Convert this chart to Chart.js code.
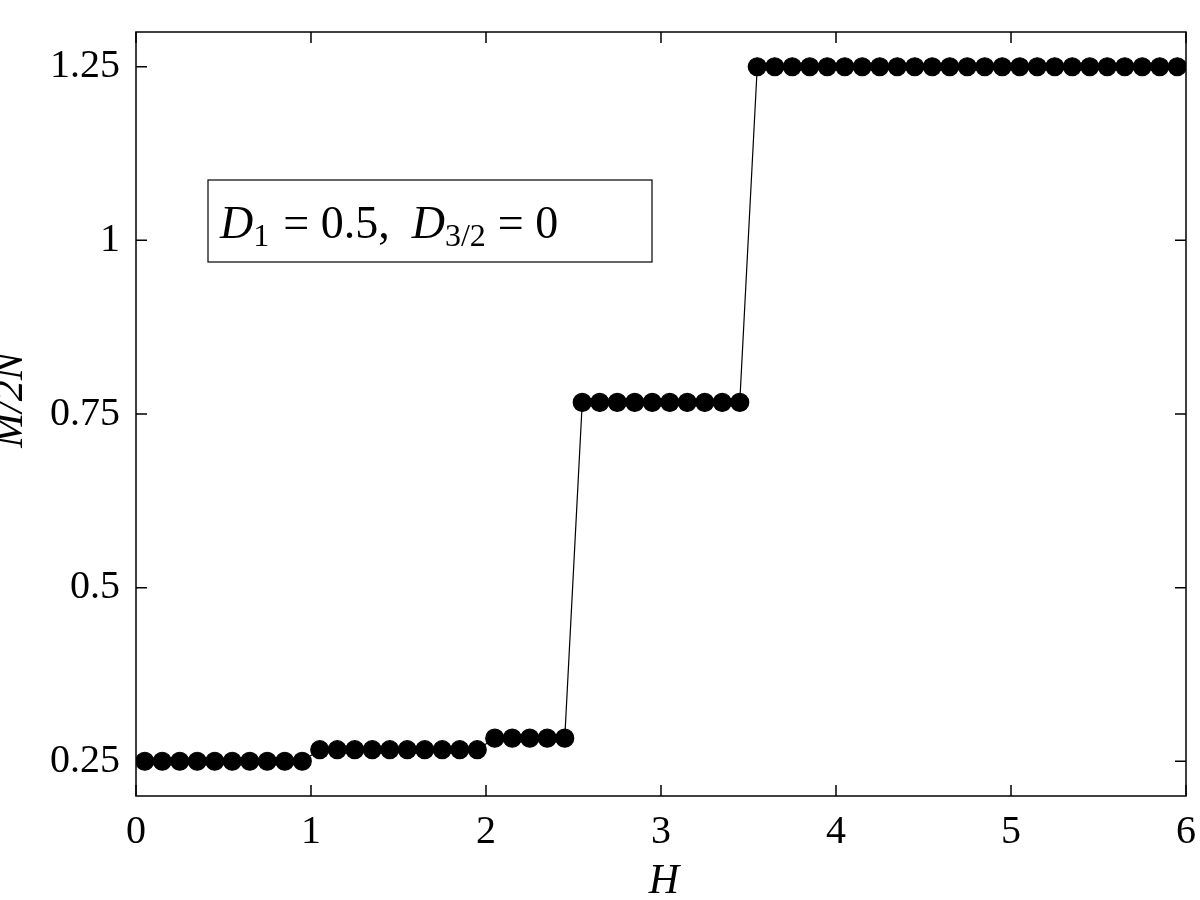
<!DOCTYPE html>
<html><head><meta charset="utf-8">
<script src="https://cdn.jsdelivr.net/npm/chart.js@4"></script>
<style>html,body{margin:0;padding:0;background:#fff}#w{width:1200px;height:900px}</style>
</head><body><div id="w"><canvas id="c"></canvas></div>
<script>
const hValues = [0.05,0.15,0.25,0.35,0.45,0.55,0.65,0.75,0.85,0.95,
 1.05,1.15,1.25,1.35,1.45,1.55,1.65,1.75,1.85,1.95,
 2.05,2.15,2.25,2.35,2.45,
 2.55,2.65,2.75,2.85,2.95,3.05,3.15,3.25,3.35,3.45,
 3.55,3.65,3.75,3.85,3.95,4.05,4.15,4.25,4.35,4.45,4.55,4.65,4.75,4.85,4.95,5.05,5.15,5.25,5.35,5.45,5.55,5.65,5.75,5.85,5.95];
const mValues = [0.25,0.25,0.25,0.25,0.25,0.25,0.25,0.25,0.25,0.25,
 0.2667,0.2667,0.2667,0.2667,0.2667,0.2667,0.2667,0.2667,0.2667,0.2667,
 0.2833,0.2833,0.2833,0.2833,0.2833,
 0.7667,0.7667,0.7667,0.7667,0.7667,0.7667,0.7667,0.7667,0.7667,0.7667,
 1.25,1.25,1.25,1.25,1.25,1.25,1.25,1.25,1.25,1.25,1.25,1.25,1.25,1.25,1.25,1.25,1.25,1.25,1.25,1.25,1.25,1.25,1.25,1.25,1.25];
const xTicks = [0,1,2,3,4,5,6];
const yTicks = [0.25,0.5,0.75,1,1.25];
const yTickLabels = ['0.25','0.5','0.75','1','1.25'];
const F = '"Liberation Serif", "DejaVu Serif", serif';

const deco = {
  id:'deco',
  afterDraw(ch){
    const c=ch.ctx, a=ch.chartArea, xs=ch.scales.x, ys=ch.scales.y;
    c.save();
    c.strokeStyle='#000'; c.lineWidth=1.5;
    c.strokeRect(a.left,a.top,a.right-a.left,a.bottom-a.top);
    c.beginPath();
    xTicks.forEach(v=>{const p=xs.getPixelForValue(v);c.moveTo(p,a.bottom);c.lineTo(p,a.bottom-11);c.moveTo(p,a.top);c.lineTo(p,a.top+11);});
    yTicks.forEach(v=>{const p=ys.getPixelForValue(v);c.moveTo(a.left,p);c.lineTo(a.left+11,p);c.moveTo(a.right,p);c.lineTo(a.right-11,p);});
    c.stroke();
    c.fillStyle='#000';
    c.font='italic 42px '+F; c.textAlign='center'; c.textBaseline='alphabetic';
    c.fillText('H',664,893);
    c.save(); c.translate(22,400); c.rotate(-Math.PI/2);
    c.fillText('M/2N',0,0); c.restore();
    c.fillStyle='#fff'; c.fillRect(208,180,444,82);
    c.lineWidth=1.2; c.strokeRect(208,180,444,82);
    c.fillStyle='#000'; c.textAlign='left';
    let x=220, y=238;
    c.font='italic 46px '+F; c.fillText('D',x,y); x+=c.measureText('D').width;
    c.font='32px '+F; c.fillText('1',x,y+8); x+=c.measureText('1').width+14;
    c.font='46px '+F; c.fillText('= 0.5,',x,y); x+=c.measureText('= 0.5,').width+22;
    c.font='italic 46px '+F; c.fillText('D',x,y); x+=c.measureText('D').width;
    c.font='32px '+F; c.fillText('3/2',x,y+8); x+=c.measureText('3/2').width+12;
    c.font='46px '+F; c.fillText('= 0',x,y);
    c.restore();
  }
};

new Chart(document.getElementById('c'),{
  type:'scatter',
  data:{datasets:[{data:hValues.map((h,i)=>({x:h,y:mValues[i]})),showLine:true,
    borderColor:'#000',borderWidth:1.2,backgroundColor:'#000',pointRadius:9,pointHoverRadius:9}]},
  options:{
    responsive:true,maintainAspectRatio:false,animation:false,
    layout:{padding:{top:-22,right:-4,left:0,bottom:0}},
    plugins:{legend:{display:false},tooltip:{enabled:false}},
    scales:{
      x:{type:'linear',min:0,max:6,
        afterBuildTicks(s){s.ticks=xTicks.map(v=>({value:v}));},
        afterFit(s){s.height=104;},
        grid:{display:false},border:{display:false},
        ticks:{color:'#000',font:{family:F,size:40},padding:4,maxRotation:0,callback:v=>String(v)}},
      y:{type:'linear',min:0.2,max:1.3,
        afterBuildTicks(s){s.ticks=yTicks.map(v=>({value:v}));},
        afterFit(s){s.width=136;},
        grid:{display:false},border:{display:false},
        ticks:{color:'#000',font:{family:F,size:40},padding:8,callback:v=>{const i=yTicks.indexOf(v);return i>=0?yTickLabels[i]:'';}}}
    }
  },
  plugins:[deco]
});
</script></body></html>
